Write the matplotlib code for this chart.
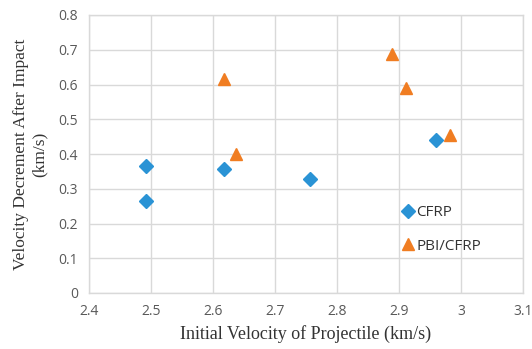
import matplotlib
matplotlib.use("Agg")
import matplotlib.pyplot as plt

cfrp_x = [2.492, 2.492, 2.618, 2.756, 2.959]
cfrp_y = [0.365, 0.266, 0.356, 0.328, 0.440]
pbi_x = [2.618, 2.637, 2.888, 2.911, 2.982]
pbi_y = [0.615, 0.400, 0.687, 0.589, 0.455]
xticks = [2.4, 2.5, 2.6, 2.7, 2.8, 2.9, 3.0, 3.1]
xticklabels = ["2.4", "2.5", "2.6", "2.7", "2.8", "2.9", "3", "3.1"]
yticks = [0, 0.1, 0.2, 0.3, 0.4, 0.5, 0.6, 0.7, 0.8]
yticklabels = ["0", "0.1", "0.2", "0.3", "0.4", "0.5", "0.6", "0.7", "0.8"]

fig = plt.figure(figsize=(5.32, 3.49), dpi=100)
ax = fig.add_axes([89/532, 1-293/349, (523-89)/532, (293-15)/349])

blue = "#2a93d5"
orange = "#f07d22"
ax.plot(cfrp_x, cfrp_y, linestyle="none", marker="D", markersize=7, color=blue, label="CFRP", zorder=3)
ax.plot(pbi_x, pbi_y, linestyle="none", marker="^", markersize=9, color=orange, label="PBI/CFRP", zorder=3)

ax.set_xlim(2.4, 3.1)
ax.set_ylim(0, 0.8)
ax.set_xticks(xticks)
ax.set_xticklabels(xticklabels)
ax.set_yticks(yticks)
ax.set_yticklabels(yticklabels)
ax.grid(True, color="#d9d9d9", linewidth=1.0)
ax.set_axisbelow(True)
for s in ax.spines.values():
    s.set_color("#d9d9d9")
    s.set_linewidth(1.0)
ax.tick_params(length=0, colors="#595959", labelsize=10, pad=8)
for lab in ax.get_xticklabels() + ax.get_yticklabels():
    lab.set_fontfamily("Open Sans")

ax.set_xlabel("Initial Velocity of Projectile (km/s)", fontfamily="Liberation Serif",
              fontsize=13, color="#333333", labelpad=4)
ax.set_ylabel("Velocity Decrement After Impact\n(km/s)", fontfamily="Liberation Serif",
              fontsize=12.5, color="#333333", linespacing=1.2, labelpad=8)

leg = ax.legend(loc="lower left", bbox_to_anchor=(0.686, 0.092), frameon=False,
                prop={"family": "Open Sans", "size": 11}, handletextpad=0.05,
                handlelength=1.0, labelspacing=1.2, labelcolor="#333333")

fig.savefig("out.png", dpi=100)
